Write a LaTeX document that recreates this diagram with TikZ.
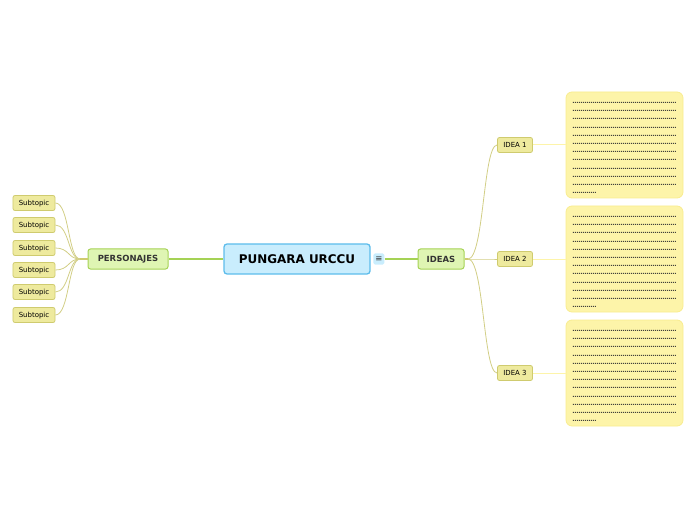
\documentclass[tikz,border=0pt]{standalone}
\usepackage{fontspec}
\setmainfont{DejaVu Sans}
\usetikzlibrary{positioning}
\definecolor{mmblue}{HTML}{C9EDFD}
\definecolor{mmblueline}{HTML}{5DBCEB}
\definecolor{mmgreen}{HTML}{DFF5B3}
\definecolor{mmgreenline}{HTML}{A5D255}
\definecolor{mmkhaki}{HTML}{EEEA9E}
\definecolor{mmkhakiline}{HTML}{CFCB6F}
\definecolor{mmnote}{HTML}{FDF4A9}
\definecolor{mmnoteline}{HTML}{F9EC8F}
\definecolor{mmtwig}{HTML}{D2CE86}
\definecolor{mmtext}{HTML}{333333}
\newcommand\dotrow[1]{\hbox to #1{\leaders\hbox to 2bp{\hss.\hss}\hfill}}
\newcommand\notedots{\vbox{\baselineskip=8.2bp\lineskiplimit=-20bp\vskip6bp
  \dotrow{104bp}\dotrow{104bp}\dotrow{104bp}\dotrow{104bp}\dotrow{104bp}\dotrow{104bp}
  \dotrow{104bp}\dotrow{104bp}\dotrow{104bp}\dotrow{104bp}\dotrow{104bp}\dotrow{24bp}}}
\tikzset{
  central/.style={draw=mmblueline,line width=1.3bp,fill=mmblue,rounded corners=3bp,minimum width=146bp,minimum height=30bp,font=\fontsize{12}{14}\selectfont\bfseries},
  maintopic/.style={draw=mmgreenline,line width=1bp,fill=mmgreen,rounded corners=2.5bp,minimum height=20bp,inner xsep=4bp,font=\fontsize{8.5}{10}\selectfont\bfseries,text=mmtext},
  subtopic/.style={draw=mmkhakiline,line width=0.8bp,fill=mmkhaki,rounded corners=2bp,minimum height=15bp,minimum width=42bp,inner xsep=3bp,text height=5.5bp,text depth=1bp,font=\fontsize{7}{8}\selectfont,text=black},
  notebox/.style={draw=mmnoteline,line width=0.8bp,fill=mmnote,rounded corners=6bp,minimum width=117bp,minimum height=106bp,inner sep=0pt,font=\fontsize{6}{7}\selectfont\bfseries,text=mmtext},
  twig/.style={draw=mmtwig,line width=0.8bp},
  branch/.style={draw=mmgreenline,line width=1.3bp},
}
\begin{document}
\begin{tikzpicture}[x=1bp,y=-1bp]
  \useasboundingbox (0,0) rectangle (696,520);
  \node[central] (root) at (297,259) {PUNGARA URCCU};
  \node[fill=mmblue,rounded corners=1.5bp,minimum size=11bp,inner sep=0pt,font=\fontsize{8.5}{9}\selectfont,text=mmtext,right=2.5bp of root] (menu) {≡};
  \node[maintopic,minimum width=80bp] (pers) at (128,259) {PERSONAJES};
  \node[maintopic,minimum width=46bp] (ideas) at (441,259) {IDEAS};
  \draw[branch] (root.west) -- (pers.east);
  \draw[branch] (menu.east) -- (ideas.west);
  % personajes side
  \coordinate (pj) at (80,259);
  \draw[draw=mmkhakiline,line width=1.6bp] (pj) -- (pers.west);
  \foreach \y [count=\i] in {203,225,248,270,292,315} {
    \node[subtopic] (sub\i) at (34,\y) {Subtopic};
    \draw[twig] (sub\i.east) .. controls +(14,0) and +(-12,0) .. (pj);
  }
  % ideas side
  \coordinate (ij) at (468,259);
  \draw[draw=mmkhakiline,line width=1.2bp] (ideas.east) -- (ij);
  \foreach \y [count=\i] in {145,259,373} {
    \node[subtopic,minimum width=35bp] (idea\i) at (515,\y) {IDEA \i};
    \node[notebox] (note\i) at (624.5,\y) {\notedots};
    \draw[twig] (ij) .. controls +(16,0) and +(-14,0) .. (idea\i.west);
    \draw[draw=mmnote,line width=1bp] (idea\i.east) -- (note\i.west);
  }
\end{tikzpicture}
\end{document}
